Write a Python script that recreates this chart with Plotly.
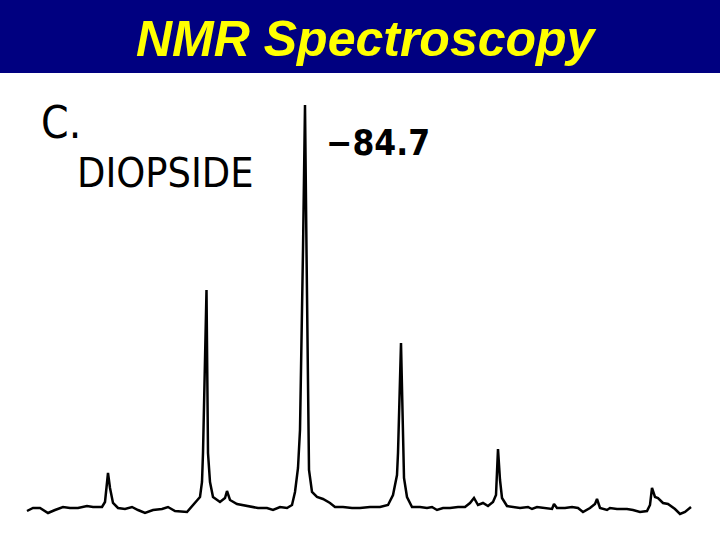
import plotly.graph_objects as go

# Spectrum trace (arbitrary horizontal units, intensity above baseline)
shift = [27, 33, 40, 48, 55, 63, 70, 78, 87, 93, 102, 105, 108, 110, 113, 118, 125, 132, 138, 145,
         153, 162, 168, 175, 187, 193, 200, 202, 203, 206.5, 208, 210, 213, 220, 225, 227, 230, 237,
         247, 258, 267, 273, 280, 287, 292, 295, 298, 300, 303, 305, 306.5, 308, 309, 312, 317, 323,
         330, 335, 343, 352, 360, 370, 380, 388, 393, 397, 398, 401, 403, 404, 407, 412, 420, 427,
         432, 437, 443, 450, 458, 465, 470, 474, 478, 483, 488, 493, 496, 498, 500, 502, 507, 513,
         520, 528, 532, 537, 545, 552, 554, 557, 565, 572, 578, 583, 590, 595, 597, 600, 607, 610,
         617, 627, 633, 640, 647, 650, 652, 655, 658, 663, 668, 672, 675, 680, 685, 691]
intensity = [-1, 2, 2, -3, 0, 3, 2, 2, 4, 3, 3, 8, 37, 22, 7, 2, 1, 3, 0, -3,
             0, 1, 3, -1, -2, 5, 13, 28, 57, 220, 57, 28, 13, 8, 12, 19, 10, 6,
             4, 2, 2, 0, 3, 2, 5, 18, 42, 80, 260, 405, 260, 80, 40, 18, 13, 11,
             7, 3, 3, 2, 2, 3, 3, 5, 15, 35, 57, 167, 57, 32, 13, 3, 3, 2,
             3, 0, 2, 2, 3, 3, 7, 12, 5, 7, 4, 8, 15, 61, 30, 12, 4, 3,
             2, 3, 1, 3, 2, 1, 6, 2, 2, 3, 2, -2, 2, 6, 11, 2, 0, 2,
             1, 1, 0, -2, -1, 5, 22, 13, 12, 7, 6, 3, 1, -4, -2, 3]

title_text = "NMR Spectroscopy"
label_panel = "C."
label_mineral = "DIOPSIDE"
label_peak = "\u221284.7"

fig = go.Figure()
fig.add_trace(go.Scatter(x=shift, y=intensity, mode="lines",
                         line=dict(color="black", width=2.5), hoverinfo="skip"))

W, H = 720, 540
def py(p):
    return 1 - p / H
def px(p):
    return p / W

narrow = "DejaVu Sans Condensed, Liberation Sans Narrow, DejaVu Sans"

fig.update_layout(
    width=W, height=H,
    margin=dict(l=0, r=0, t=0, b=0),
    paper_bgcolor="white", plot_bgcolor="white",
    showlegend=False,
    xaxis=dict(range=[0, 720], visible=False, domain=[0, 1], fixedrange=True),
    yaxis=dict(range=[-30, 510], visible=False, domain=[0, 1], fixedrange=True),
    shapes=[dict(type="rect", xref="paper", yref="paper", x0=0, x1=1, y0=py(73), y1=1,
                 fillcolor="#000080", line=dict(width=0), layer="above")],
    annotations=[
        dict(text="<b><i>" + title_text + "</i></b>", xref="paper", yref="paper",
             x=px(366), y=py(39), xanchor="center", yanchor="middle", showarrow=False,
             font=dict(family="Liberation Sans, Arial", size=50, color="#FFFF00")),
        dict(text=label_panel, xref="paper", yref="paper", x=px(39), y=py(123),
             xanchor="left", yanchor="middle", showarrow=False,
             font=dict(family=narrow, size=44, color="black")),
        dict(text=label_mineral, xref="paper", yref="paper", x=px(75), y=py(173),
             xanchor="left", yanchor="middle", showarrow=False,
             font=dict(family=narrow, size=41, color="black")),
        dict(text="<b>" + label_peak + "</b>", xref="paper", yref="paper", x=px(324), y=py(143),
             xanchor="left", yanchor="middle", showarrow=False,
             font=dict(family=narrow, size=35, color="black")),
    ],
)

fig.write_html("out.html", config={"displayModeBar": False, "staticPlot": True},
               post_script="document.body.style.margin='0';document.body.style.overflow='hidden';")
